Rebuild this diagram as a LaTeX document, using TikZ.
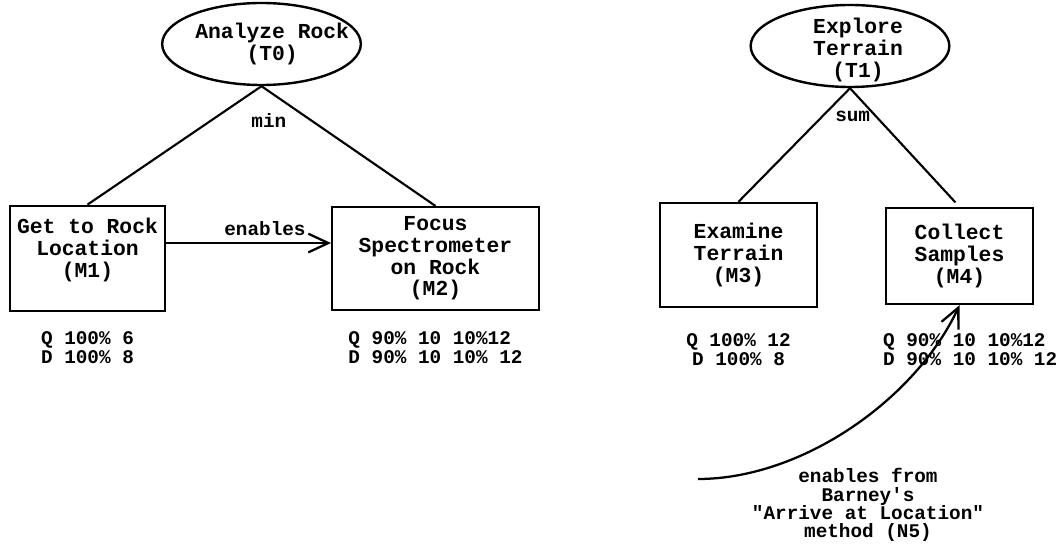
\documentclass[tikz,border=0pt]{standalone}
\usepackage{fontspec}
\setmonofont{Liberation Mono}
\usetikzlibrary{positioning,arrows.meta,shapes.geometric}

\begin{document}
\begin{tikzpicture}[x=0.75pt, y=-0.75pt,
  task/.style={draw, ellipse, line width=1.8pt, minimum width=149pt,
               minimum height=61.5pt, inner sep=0pt},
  tasktext/.style={font=\ttfamily\bfseries\fontsize{16}{16.3}\selectfont,
                   align=center, inner sep=0pt},
  method/.style={draw, rectangle, line width=1.8pt, align=center, inner sep=0pt,
                 font=\ttfamily\bfseries\fontsize{16}{16.2}\selectfont},
  qual/.style={font=\ttfamily\bfseries\fontsize{14.5}{14.3}\selectfont,
               align=center, inner sep=0pt},
  small/.style={font=\ttfamily\bfseries\fontsize{14.5}{13.7}\selectfont,
                align=center, inner sep=0pt},
  branch/.style={line width=1.6pt},
  enable/.style={line width=1.7pt, -{Straight Barb[length=15pt,width=14pt]}}]
  \useasboundingbox (0,0) rectangle (1060,545);

  \node[task] (T0) at (261.5,44) {};
  \node[tasktext] (T0txt) at ([xshift=8pt]T0.center) {Analyze Rock\\(T0)};
  \node[task] (T1) at (850,46) {};
  \node[tasktext] (T1txt) at ([xshift=6pt,yshift=-3pt]T1.center) {Explore\\Terrain\\(T1)};

  \node[method, minimum width=116pt, minimum height=79pt] (M1) at (87.5,258.5)
    {Get to Rock\\Location\\(M1)\\\mbox{}};
  \node[method, minimum width=155pt, minimum height=77pt] (M2) at (435.5,258.5)
    {Focus\\Spectrometer\\on Rock\\(M2)};
  \node[method, minimum width=118pt, minimum height=78pt] (M3) at (738.5,255)
    {Examine\\Terrain\\(M3)};
  \node[method, minimum width=110pt, minimum height=72pt] (M4) at (959.5,256)
    {Collect\\Samples\\(M4)};

  \node[qual, below=14pt of M1] (M1q) {Q 100\% 6\\D 100\% 8};
  \node[qual, align=left, below=15pt of M2] (M2q) {Q 90\% 10 10\%12\\D 90\% 10 10\% 12};
  \node[qual, below=19pt of M3] (M3q) {Q 100\% 12\\D 100\% 8};
  \node[qual, align=left, below=21pt of M4, xshift=8pt] (M4q) {Q 90\% 10 10\%12\\D 90\% 10 10\% 12};

  \node[small, below=20pt of T0, xshift=5.5pt] (T0min) {min};
  \node[small, below=17pt of T1, xshift=2pt] (T1sum) {sum};

  \draw[branch] (T0.south) -- (M1.north);
  \draw[branch] (T0.south) -- (M2.north);
  \draw[branch] (T1.south) -- (M3.north);
  \draw[branch, shorten >=4.5pt] (T1.south) -- (M4.north);

  \draw[enable] ([yshift=11.6pt]M1.east) -- ([yshift=11.6pt]M2.west)
    node[small, pos=0.6, above=5pt] (M1en) {enables};

  \node[small] (N5txt) at (868,505)
    {enables from\\Barney's\\"Arrive at Location"\\method (N5)};
  \coordinate (N5) at (698,479);
  \draw[enable] (N5) to[out=0, in=245, looseness=0.85] (M4.south);
\end{tikzpicture}
\end{document}
